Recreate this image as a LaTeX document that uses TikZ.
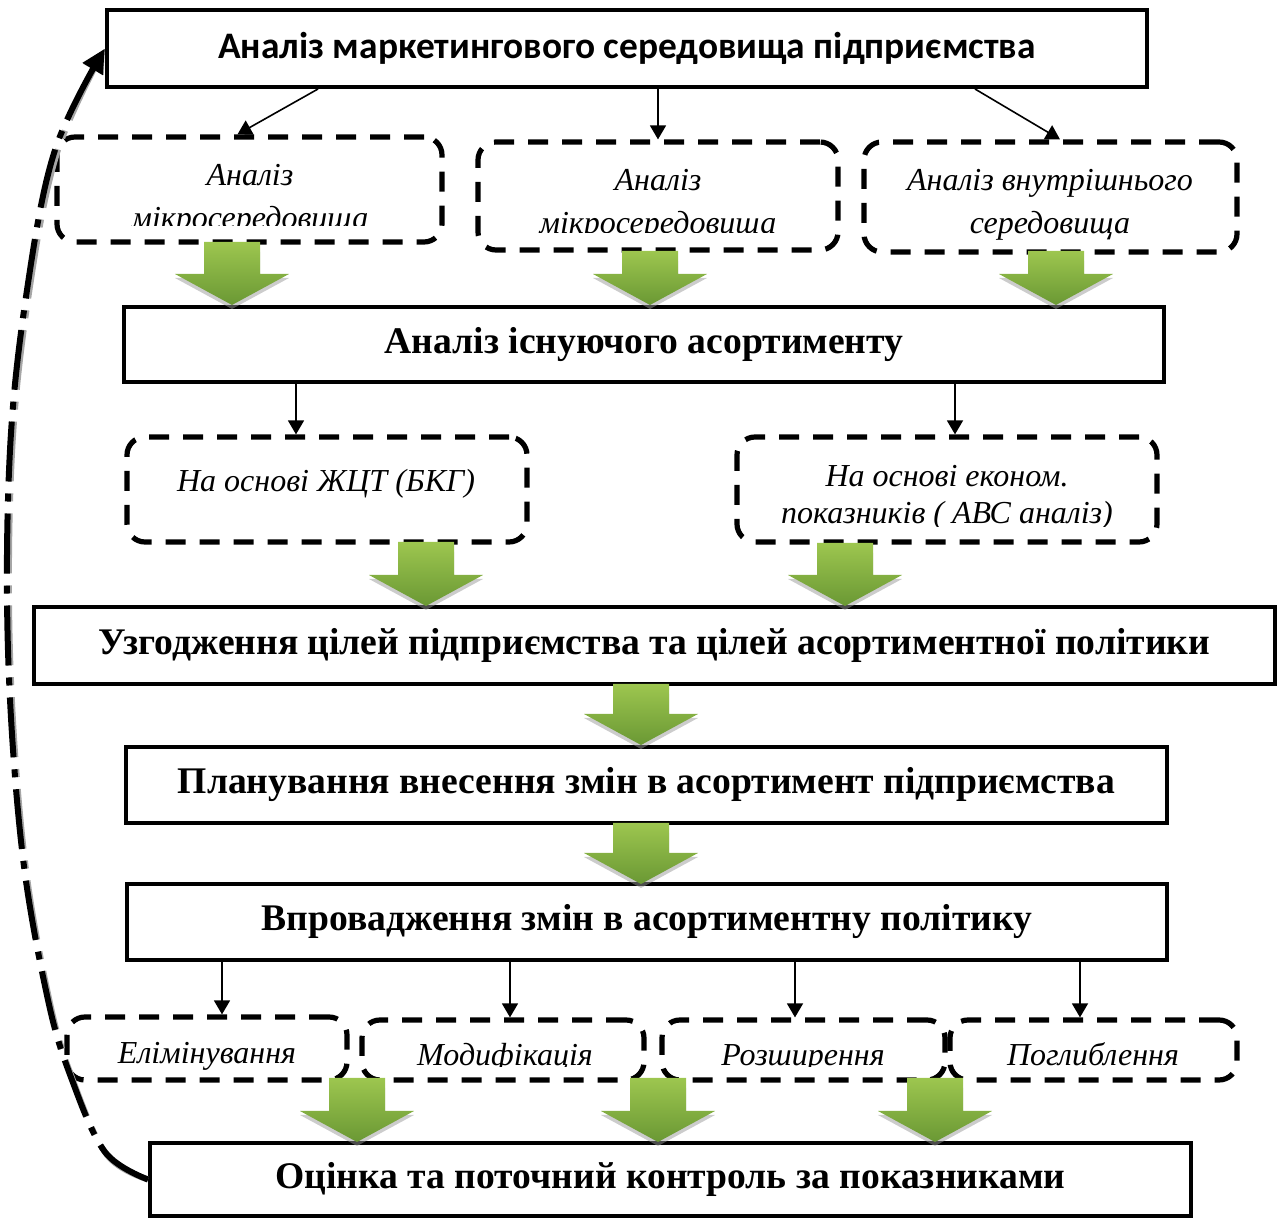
\documentclass[tikz,border=0pt]{standalone}
\usepackage{fontspec}
\setmainfont{Liberation Serif}
\newfontfamily\titlefont{Carlito}
\usetikzlibrary{arrows.meta}
\definecolor{gtop}{HTML}{9DC64F}
\definecolor{gbot}{HTML}{6A9834}
\newcommand\garrow[3]{%
  \fill[black!40,opacity=.5,yshift=-2pt] (#1-28,#2+6) -- (#1+28,#2+6) -- (#1+28,#3-31) -- (#1+57,#3-31) -- (#1,#3) -- (#1-57,#3-31) -- (#1-28,#3-31) -- cycle;
  \shade[top color=gtop,bottom color=gbot] (#1-28,#2) -- (#1+28,#2) -- (#1+28,#3-31) -- (#1+57,#3-31) -- (#1,#3) -- (#1-57,#3-31) -- (#1-28,#3-31) -- cycle;
}
\tikzset{
  sbox/.style={draw, line width=2pt, inner sep=0pt, font=\fontsize{18.8}{22}\selectfont\bfseries},
  dbox/.style={draw, line width=2.6pt, dash pattern=on 10pt off 7pt, rounded corners=9pt, inner sep=0pt},
  lbl/.style={font=\fontsize{16}{21.5}\selectfont\itshape, align=center, inner sep=0pt},
  conn/.style={line width=0.8pt, -{Triangle[length=7pt,width=8pt]}},
  fb/.style={line width=3pt, dash pattern=on 30pt off 6pt on 4pt off 6pt, -{Triangle[length=12pt,width=11pt]}}
}
\begin{document}
\begin{tikzpicture}[x=0.5pt,y=-0.5pt]
\useasboundingbox (0,0) rectangle (1282,1218);
% solid boxes
\node[sbox, minimum width=520pt, minimum height=38.5pt, font=\titlefont\fontsize{18.7}{22}\selectfont\bfseries] (t1) at (627,48.5) {Аналіз маркетингового середовища підприємства};
\node[sbox, minimum width=520pt, minimum height=37.5pt] (t2) at (644,344.5) {Аналіз існуючого асортименту};
\node[sbox, minimum width=620.5pt, minimum height=38.5pt] (t3) at (654.5,645.5) {Узгодження цілей підприємства та цілей асортиментної політики};
\node[sbox, minimum width=520.5pt, minimum height=38pt] (t4) at (646.5,785) {Планування внесення змін в асортимент підприємства};
\node[sbox, minimum width=520pt, minimum height=38pt] (t5) at (647,922) {Впровадження змін в асортиментну політику};
\node[sbox, minimum width=520.5pt, minimum height=36.5pt] (t6) at (670.5,1179.5) {Оцінка та поточний контроль за показниками};
% dashed boxes
\node[dbox, minimum width=192.5pt, minimum height=52.5pt] (dA) at (249.5,189.5) {};
\node[dbox, minimum width=180pt, minimum height=54pt] (dB) at (658,196) {};
\node[dbox, minimum width=186.5pt, minimum height=55pt] (dC) at (1050.5,197) {};
\node[dbox, minimum width=200pt, minimum height=52.5pt] (dD) at (327,489.5) {};
\node[dbox, minimum width=210pt, minimum height=52.5pt] (dE) at (947,489.5) {};
\node[dbox, minimum width=140pt, minimum height=31.5pt] (dF) at (207,1048.5) {};
\node[dbox, minimum width=141pt, minimum height=30pt] (dG) at (503,1050) {};
\node[dbox, minimum width=141.5pt, minimum height=30pt] (dH) at (803.5,1050) {};
\node[dbox, minimum width=143.5pt, minimum height=30pt] (dI) at (1093.5,1050) {};
% labels
\begin{scope}
\clip (57,137) rectangle (442,226);
\node[lbl] (lA) at (250,200) {Аналіз\\мікросередовища};
\end{scope}
\begin{scope}
\clip (478,142) rectangle (838,233);
\node[lbl] (lB) at (658,205) {Аналіз\\мікросередовища};
\end{scope}
\node[lbl] (lC) at (1050,205) {Аналіз внутрішнього\\середовища};
\node[lbl] (lD) at (326,484) {На основі ЖЦТ (БКГ)};
\begin{scope}
\clip (737,437) rectangle (1157,527);
\node[lbl, font=\fontsize{16}{18.5}\selectfont\itshape] (lE) at (947,497.5) {На основі економ.\\показників ( АВС аналіз)};
\end{scope}
\node[lbl] (lF) at (207,1056) {Елімінування};
\begin{scope}
\clip (362,1020) rectangle (1237,1067);
\node[lbl] (lG) at (505,1058) {Модифікація};
\node[lbl] (lH) at (803,1058) {Розширення};
\node[lbl] (lI) at (1093,1054) {Поглиблення};
\end{scope}
% thin connectors
\draw[conn] ([xshift=-154.5pt]t1.south) -- ([xshift=-6pt]dA.north);
\draw[conn] (t1.south -| dB.north) -- (dB.north);
\draw[conn] ([xshift=174pt]t1.south) -- ([xshift=4.75pt]dC.north);
\draw[conn] ([xshift=-15.5pt]dD.north |- t2.south) -- ([xshift=-15.5pt]dD.north);
\draw[conn] ([xshift=4pt]dE.north |- t2.south) -- ([xshift=4pt]dE.north);
\draw[conn] ([xshift=7.5pt]dF.north |- t5.south) -- ([xshift=7.5pt]dF.north);
\draw[conn] ([xshift=3.5pt]dG.north |- t5.south) -- ([xshift=3.5pt]dG.north);
\draw[conn] ([xshift=-4.25pt]dH.north |- t5.south) -- ([xshift=-4.25pt]dH.north);
\draw[conn] ([xshift=-6.75pt]dI.north |- t5.south) -- ([xshift=-6.75pt]dI.north);
% green block arrows
\garrow{232}{242}{305}
\garrow{650}{251}{305}
\garrow{1056}{251}{305}
\garrow{426}{542}{606}
\garrow{845}{543}{606}
\garrow{641}{684}{745}
\garrow{641}{823}{884}
\garrow{357}{1078}{1142}
\garrow{658}{1078}{1142}
\garrow{935}{1078}{1142}
% feedback
\draw[fb, black!35, xshift=1pt, yshift=-1.5pt] plot[smooth, tension=0.6] coordinates {(t6.west) (105,1152) (72,1080) (48,1000) (22,850) (8,650) (10,450) (27,290) (55,150) (t1.west)};
\draw[fb] plot[smooth, tension=0.6] coordinates {(t6.west) (105,1152) (72,1080) (48,1000) (22,850) (8,650) (10,450) (27,290) (55,150) (t1.west)};
\end{tikzpicture}
\end{document}
